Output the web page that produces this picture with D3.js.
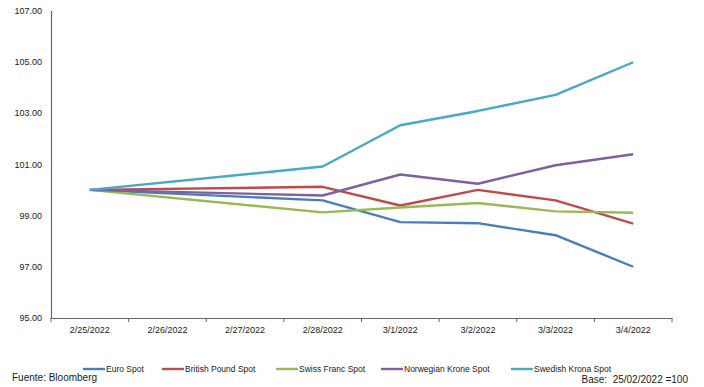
<html><head>
<meta charset="UTF-8">
<title>Spot FX index</title>
<script src="https://cdn.jsdelivr.net/npm/d3@7"></script>
<style>
  body { margin: 0; background: #fff; }
  text { font-family: "Liberation Sans", Arial, sans-serif; }
  .tick text { font-size: 9px; fill: #1a1a1a; }
  .legend text { font-size: 8.5px; fill: #1a1a1a; }
  .note { font-size: 10px; fill: #1a1a1a; }
</style>
</head>
<body>
<div id="chart"></div>
<script>
// dates on the axis (weekend has no quotes)
const dates = ['2/25/2022', '2/26/2022', '2/27/2022', '2/28/2022', '3/1/2022', '3/2/2022', '3/3/2022', '3/4/2022'];
const seriesNames = ['Euro Spot', 'British Pound Spot', 'Swiss Franc Spot', 'Norwegian Krone Spot', 'Swedish Krona Spot'];
const colors = ['#4a7ebb', '#be4b48', '#98b954', '#7d60a0', '#46aac5'];

const euro      = [100, null, null, 99.59, 98.74, 98.70, 98.23, 97.00];
const gbp       = [100, null, null, 100.12, 99.39, 100.00, 99.59, 98.68];
const chf       = [100, null, null, 99.12, 99.31, 99.49, 99.16, 99.11];
const nok       = [100, null, null, 99.78, 100.60, 100.24, 100.96, 101.39];
const sek       = [100, null, null, 100.91, 102.52, 103.08, 103.71, 104.98];
const yTicks = [95, 97, 99, 101, 103, 105, 107];

const seriesValues = [euro, gbp, chf, nok, sek];

const width = 704, height = 387;
const svg = d3.select("#chart").append("svg")
    .attr("width", width)
    .attr("height", height);

const x = d3.scaleBand().domain(dates).range([51, 672]);
const y = d3.scaleLinear().domain([95, 107]).range([318, 10.5]);

// y axis
const yAxis = svg.append("g")
    .attr("transform", "translate(51,0)")
    .call(d3.axisLeft(y).tickValues(yTicks).tickFormat(d3.format(".2f")).tickSize(0).tickPadding(9));
yAxis.select(".domain").attr("stroke", "#666").attr("stroke-width", 1.2);

// x axis
const xAxis = svg.append("g")
    .attr("transform", "translate(0,318)")
    .call(d3.axisBottom(x).tickSize(0).tickPadding(9));
xAxis.select(".domain").attr("stroke", "#666").attr("stroke-width", 1.2);
// tick marks between categories
xAxis.selectAll(".sep")
    .data(dates.map(d => x(d)).concat([x.range()[1]]))
  .enter().append("line")
    .attr("class", "sep")
    .attr("x1", d => d).attr("x2", d => d)
    .attr("y1", 0).attr("y2", 4)
    .attr("stroke", "#666");

// lines (gaps on weekend connected)
const line = d3.line()
    .x(d => x(d.date) + x.bandwidth() / 2)
    .y(d => y(d.value));

seriesValues.forEach((vals, i) => {
  const pts = dates.map((d, j) => ({date: d, value: vals[j]})).filter(p => p.value != null);
  svg.append("path")
      .datum(pts)
      .attr("fill", "none")
      .attr("stroke", colors[i])
      .attr("stroke-width", 2.4)
      .attr("stroke-linejoin", "round")
      .attr("d", line);
});

// legend
const legendX = [83, 162, 276, 381, 511];
const legend = svg.append("g").attr("class", "legend");
seriesNames.forEach((name, i) => {
  const g = legend.append("g").attr("transform", `translate(${legendX[i]},369)`);
  g.append("line").attr("x1", 0).attr("x2", 22).attr("y1", 0).attr("y2", 0)
      .attr("stroke", colors[i]).attr("stroke-width", 2.4);
  g.append("text").attr("x", 23).attr("y", 2.5).text(name);
});

svg.append("text").attr("class", "note").attr("x", 12).attr("y", 381).text("Fuente: Bloomberg");
svg.append("text").attr("class", "note").attr("x", 688).attr("y", 383)
    .attr("text-anchor", "end").attr("xml:space", "preserve").text("Base:  25/02/2022 =100");
</script>
</body></html>
